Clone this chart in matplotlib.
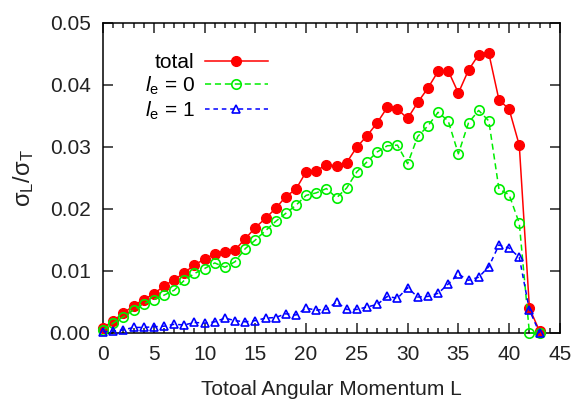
import numpy as np
import matplotlib
matplotlib.use('Agg')
import matplotlib.pyplot as plt
from matplotlib.ticker import MultipleLocator

# Data
L = np.arange(0, 44)

total = [0.0008, 0.0020, 0.0032, 0.0044, 0.0054, 0.0063, 0.0076, 0.0086, 0.0097, 0.0110,
         0.0119, 0.0128, 0.0130, 0.0134, 0.0152, 0.0170, 0.0185, 0.0201, 0.0220, 0.0232,
         0.0260, 0.0262, 0.0271, 0.0270, 0.0275, 0.0300, 0.0318, 0.0339, 0.0364, 0.0361,
         0.0346, 0.0372, 0.0395, 0.0422, 0.0423, 0.0387, 0.0424, 0.0449, 0.0451, 0.0376,
         0.0361, 0.0303, 0.0040, 0.0003]

le0 = [0.0005, 0.0016, 0.0026, 0.0037, 0.0047, 0.0054, 0.0061, 0.0069, 0.0085, 0.0096,
       0.0104, 0.0113, 0.0106, 0.0115, 0.0136, 0.0150, 0.0165, 0.0180, 0.0193, 0.0206,
       0.0222, 0.0226, 0.0233, 0.0218, 0.0234, 0.0260, 0.0276, 0.0292, 0.0302, 0.0303,
       0.0273, 0.0317, 0.0334, 0.0356, 0.0342, 0.0289, 0.0339, 0.0359, 0.0342, 0.0232,
       0.0223, 0.0177, 0.0000, 0.0000]

le1 = [0.0002, 0.0003, 0.0005, 0.0009, 0.0009, 0.0010, 0.0011, 0.0014, 0.0013, 0.0017,
       0.0016, 0.0018, 0.0024, 0.0020, 0.0018, 0.0020, 0.0024, 0.0025, 0.0031, 0.0029,
       0.0040, 0.0037, 0.0038, 0.0050, 0.0038, 0.0038, 0.0042, 0.0046, 0.0059, 0.0056,
       0.0073, 0.0058, 0.0059, 0.0064, 0.0079, 0.0095, 0.0085, 0.0090, 0.0107, 0.0142,
       0.0137, 0.0122, 0.0037, 0.0000]

plt.rcParams['font.family'] = ['Liberation Sans', 'DejaVu Sans']
plt.rcParams['mathtext.fontset'] = 'custom'
plt.rcParams['mathtext.rm'] = 'Liberation Sans'
plt.rcParams['mathtext.it'] = 'Liberation Sans:italic'

fig = plt.figure(figsize=(5.76, 4.0), dpi=100)
ax = fig.add_axes([0.179, 0.1675, 0.793, 0.775])

ax.plot(L, total, '-', color='red', lw=1.1, marker='o', ms=7,
        mfc='red', mec='red', clip_on=False, zorder=3, label='total')
ax.plot(L, le0, '--', color='#00ee00', lw=1.1, marker='o', ms=6.8,
        mfc='none', mec='#00ee00', mew=1.2, dashes=(4, 2.5), clip_on=False,
        zorder=4, label=r'$l_{\mathrm{e}}$ = 0')
ax.plot(L, le1, '--', color='blue', lw=1.1, marker='^', ms=6,
        mfc='none', mec='blue', mew=1.2, dashes=(3, 2.5), clip_on=False,
        zorder=5, label=r'$l_{\mathrm{e}}$ = 1')

ax.set_xlim(0, 45)
ax.set_ylim(0, 0.05)
ax.xaxis.set_major_locator(MultipleLocator(5))
ax.xaxis.set_minor_locator(MultipleLocator(1))
ax.yaxis.set_major_locator(MultipleLocator(0.01))
ax.yaxis.set_major_formatter(matplotlib.ticker.FormatStrFormatter('%.2f'))
ax.tick_params(which='both', direction='in', top=True, right=True,
               labelsize=15, colors='#222222', width=1.1)
ax.tick_params(which='major', length=7, pad=9)
ax.tick_params(which='minor', length=3.5)
for s in ax.spines.values():
    s.set_linewidth(1.1)

ax.set_xlabel('Totoal Angular Momentum L', fontsize=15, color='#222222', labelpad=11)
ax.set_ylabel(r'$\mathrm{\sigma_L/\sigma_T}$', fontsize=17, color='#222222', labelpad=10)

leg = ax.legend(loc='upper right', bbox_to_anchor=(0.392, 0.95), frameon=False,
                markerfirst=False, fontsize=15, handlelength=3.0,
                labelspacing=0.12, handletextpad=0.5, borderpad=0.2)

fig.savefig('out.png', dpi=100)
